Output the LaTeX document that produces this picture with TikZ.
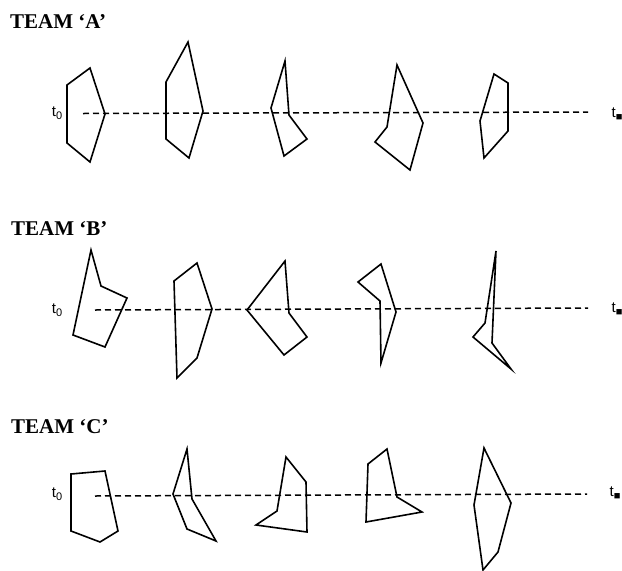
\documentclass[tikz,border=0pt]{standalone}
\usepackage{fontspec}
\setmainfont{Liberation Serif}
\newfontfamily\labelfont{Liberation Sans}
\newcommand{\tsub}[1]{t\raisebox{-2.5pt}{\fontsize{11}{11}\selectfont #1}}
\tikzset{
	team_title/.style = {
		anchor=base west,
		inner sep=0pt,
		font=\bfseries\fontsize{21}{24}\selectfont
	},
	time_label/.style = {
		inner sep=0pt,
		font=\labelfont\fontsize{15}{17}\selectfont
	},
	time_line/.style = {
		line width=1.5pt,
		dash pattern=on 6pt off 4pt
	},
	team_shape/.style = {
		line width=1.6pt,
		line join=miter
	},
}

\begin{document}
\begin{tikzpicture}[x=1pt, y=-1pt]
\useasboundingbox (0,0) rectangle (622,571);

% team A
\node [team_title] (title_a) at (10,28.5) {TEAM ‘A’};
\node [time_label] (a_t0) at (57,113) {\tsub{0}};
\node [time_label] (a_tn) at (617,114) {\tsub{■}};
\coordinate (a_start) at (83,113.5);
\coordinate (a_end) at (588,112);
\draw [time_line] (a_start) -- (a_end);
\draw [team_shape] (90,68) -- (67,85) -- (67,143) -- (90,162) -- (105,114) -- cycle;
\draw [team_shape] (188,42) -- (166,82) -- (166,139) -- (189,158) -- (203,111) -- cycle;
\draw [team_shape] (285,61) -- (271,108) -- (284,156) -- (307,139) -- (289,115) -- cycle;
\draw [team_shape] (397,65) -- (423,123) -- (410,170) -- (375,142) -- (387,127) -- cycle;
\draw [team_shape] (494,74) -- (508,83) -- (508,131) -- (484,158) -- (480,121) -- cycle;

% team B
\node [team_title] (title_b) at (11,235) {TEAM ‘B’};
\node [time_label] (b_t0) at (57,310) {\tsub{0}};
\node [time_label] (b_tn) at (617,309) {\tsub{■}};
\coordinate (b_start) at (95,310);
\coordinate (b_end) at (588,308);
\draw [time_line] (b_start) -- (b_end);
\draw [team_shape] (91,250) -- (101,286) -- (127,298) -- (105,347) -- (73,335) -- cycle;
\draw [team_shape] (197,263) -- (174,281) -- (177,378) -- (197,358) -- (212,309) -- cycle;
\draw [team_shape] (285,261) -- (247,310) -- (284,355) -- (307,337) -- (289,313) -- cycle;
\draw [team_shape] (381,264) -- (358,282) -- (380,301) -- (381,363) -- (396,312) -- cycle;
\draw [team_shape] (496,251) -- (485,323) -- (473,337) -- (511,369) -- (492,343) -- cycle;

% team C
\node [team_title] (title_c) at (11,433) {TEAM ‘C’};
\node [time_label] (c_t0) at (57,494) {\tsub{0}};
\node [time_label] (c_tn) at (615,493) {\tsub{■}};
\coordinate (c_start) at (95,496);
\coordinate (c_end) at (587,494);
\draw [time_line] (c_start) -- (c_end);
\draw [team_shape] (71,474) -- (105,471) -- (118,531) -- (100,542) -- (71,531) -- cycle;
\draw [team_shape] (187,449) -- (173,494) -- (187,529) -- (216,541) -- (192,499) -- cycle;
\draw [team_shape] (286,457) -- (306,482) -- (307,532) -- (256,525) -- (277,511) -- cycle;
\draw [team_shape] (387,449) -- (368,464) -- (366,522) -- (422,512) -- (397,497) -- cycle;
\draw [team_shape] (484,448) -- (511,503) -- (498,552) -- (483,570) -- (474,505) -- cycle;
\end{tikzpicture}
\end{document}
